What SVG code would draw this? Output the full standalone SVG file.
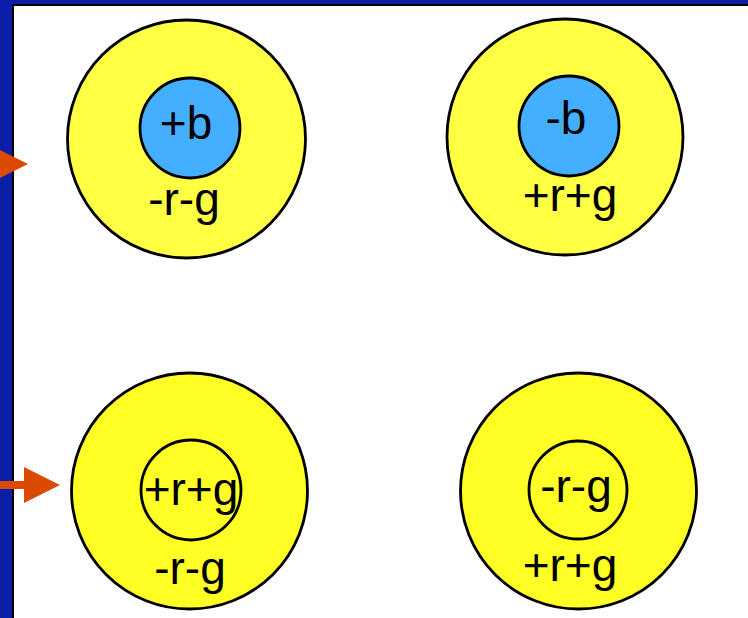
<svg xmlns="http://www.w3.org/2000/svg" width="748" height="618" viewBox="0 0 748 618">
<style>
.outer{fill:#FFFF44;stroke:#000;stroke-width:2.8}
.outer2{fill:#FFFF26;stroke:#000;stroke-width:2.8}
.blue{fill:#44AEFF;stroke:#000;stroke-width:2.8}
.inner{fill:#FFFF26;stroke:#000;stroke-width:2.8}
.t{font-family:"Liberation Sans",Arial,sans-serif;font-size:46px;fill:#000;text-anchor:middle}
.arrow{fill:#DA4A00}
</style>
<rect x="0" y="0" width="748" height="618" fill="#fff"/>
<g id="frame">
<rect x="0" y="0" width="748" height="5" fill="#0B1EA8"/>
<rect x="0" y="0" width="12" height="618" fill="#0B1EA8"/>
<rect x="12" y="4" width="736" height="2" fill="#000"/>
<rect x="12" y="4" width="2" height="614" fill="#000"/>
</g>
<g id="cell-tl">
<circle class="outer" cx="186.5" cy="139" r="119"/>
<circle class="blue" cx="190" cy="128" r="50"/>
<text class="t" x="186" y="139">+b</text>
<text class="t" x="184" y="215">-r-g</text>
</g>
<g id="cell-tr">
<circle class="outer" cx="565" cy="137" r="118"/>
<circle class="blue" cx="569" cy="126" r="50"/>
<text class="t" x="566" y="134">-b</text>
<text class="t" x="570" y="211">+r+g</text>
</g>
<g id="cell-bl">
<circle class="outer2" cx="189.5" cy="491" r="118"/>
<circle class="inner" cx="191" cy="490" r="50"/>
<text class="t" x="191" y="505">+r+g</text>
<text class="t" x="190" y="584">-r-g</text>
</g>
<g id="cell-br">
<circle class="outer2" cx="578.5" cy="491" r="118"/>
<circle class="inner" cx="578" cy="490" r="49"/>
<text class="t" x="576" y="502">-r-g</text>
<text class="t" x="570" y="581">+r+g</text>
</g>
<g id="connectors">
<polygon class="arrow" points="-30,160 -8,160 -8,146 28,164 -8,182 -8,168 -30,168"/>
<polygon class="arrow" points="0,481 24,481 24,467 60,485 24,503 24,489 0,489"/>
</g>
</svg>
